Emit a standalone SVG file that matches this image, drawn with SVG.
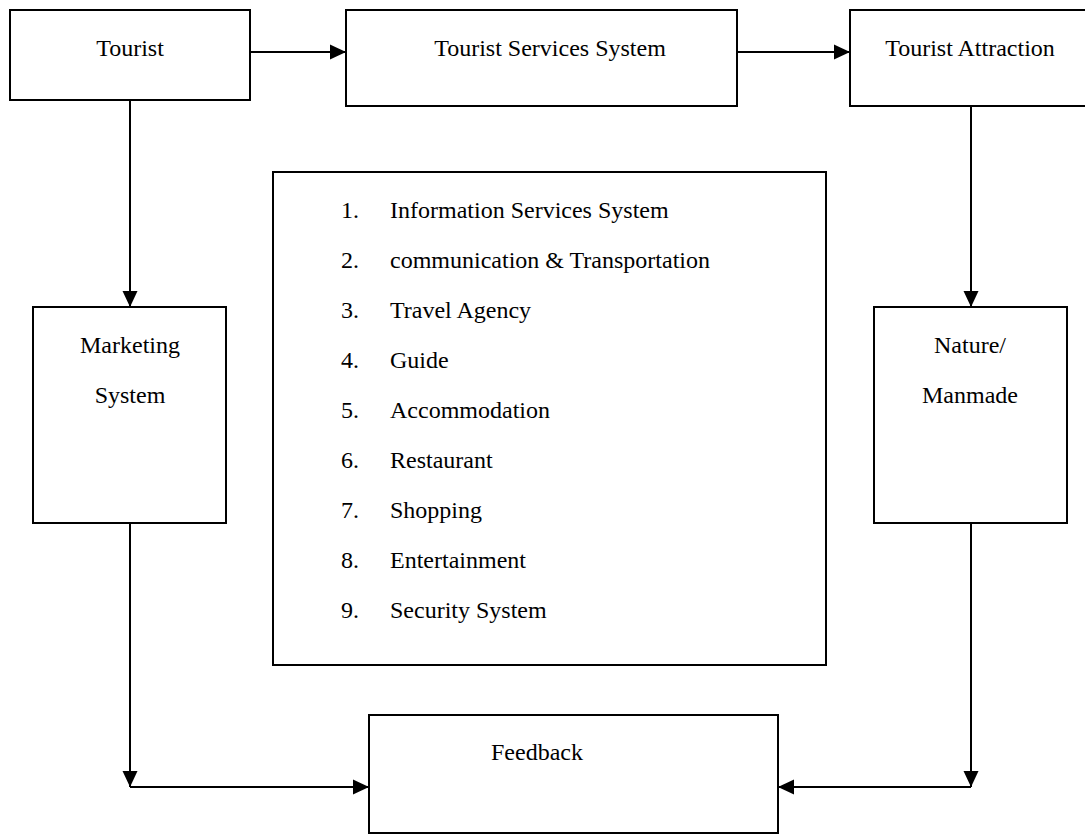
<svg xmlns="http://www.w3.org/2000/svg" width="1085" height="835" viewBox="0 0 1085 835">
<defs>
<style>
.box{fill:#fff;stroke:#000;stroke-width:2}
.t{font-family:"Liberation Serif","Times New Roman",serif;font-size:24px;fill:#000}
.c{text-anchor:middle}
.ln{fill:none;stroke:#000;stroke-width:2}
</style>
<marker id="ah" markerWidth="16" markerHeight="16" viewBox="0 0 16 16" refX="16" refY="8" orient="auto" markerUnits="userSpaceOnUse">
<path d="M0,0.5 L16,8 L0,15.5 Z" fill="#000"/>
</marker>
</defs>
<rect width="1085" height="835" fill="#fff"/>
<g id="tourist"><rect class="box" x="10" y="10" width="240" height="90"/><text class="t c" x="130" y="56">Tourist</text></g>
<g id="services"><rect class="box" x="346" y="10" width="391" height="96"/><text class="t c" x="550" y="56">Tourist Services System</text></g>
<g id="attraction"><rect class="box" x="850" y="10" width="245" height="96"/><text class="t c" x="970" y="56">Tourist Attraction</text></g>
<g id="marketing"><rect class="box" x="33" y="307" width="193" height="216"/><text class="t c" x="130" y="353">Marketing</text><text class="t c" x="130" y="403">System</text></g>
<g id="nature"><rect class="box" x="874" y="307" width="193" height="216"/><text class="t c" x="970" y="353">Nature/</text><text class="t c" x="970" y="403">Manmade</text></g>
<g id="list"><rect class="box" x="273" y="172" width="553" height="493"/>
<text class="t" x="341" y="218">1.</text><text class="t" x="390" y="218">Information Services System</text>
<text class="t" x="341" y="268">2.</text><text class="t" x="390" y="268">communication &amp; Transportation</text>
<text class="t" x="341" y="318">3.</text><text class="t" x="390" y="318">Travel Agency</text>
<text class="t" x="341" y="368">4.</text><text class="t" x="390" y="368">Guide</text>
<text class="t" x="341" y="418">5.</text><text class="t" x="390" y="418">Accommodation</text>
<text class="t" x="341" y="468">6.</text><text class="t" x="390" y="468">Restaurant</text>
<text class="t" x="341" y="518">7.</text><text class="t" x="390" y="518">Shopping</text>
<text class="t" x="341" y="568">8.</text><text class="t" x="390" y="568">Entertainment</text>
<text class="t" x="341" y="618">9.</text><text class="t" x="390" y="618">Security System</text>
</g>
<g id="feedback"><rect class="box" x="369" y="715" width="409" height="118"/><text class="t c" x="537" y="760">Feedback</text></g>
<g id="connectors">
<line class="ln" x1="250" y1="52" x2="346" y2="52" marker-end="url(#ah)"/>
<line class="ln" x1="737" y1="52" x2="850" y2="52" marker-end="url(#ah)"/>
<line class="ln" x1="130" y1="100" x2="130" y2="307" marker-end="url(#ah)"/>
<line class="ln" x1="971" y1="106" x2="971" y2="307" marker-end="url(#ah)"/>
<line class="ln" x1="130" y1="523" x2="130" y2="787" marker-end="url(#ah)"/>
<line class="ln" x1="130" y1="787" x2="369" y2="787" marker-end="url(#ah)"/>
<line class="ln" x1="971" y1="523" x2="971" y2="787" marker-end="url(#ah)"/>
<line class="ln" x1="971" y1="787" x2="778" y2="787" marker-end="url(#ah)"/>
</g>
</svg>
